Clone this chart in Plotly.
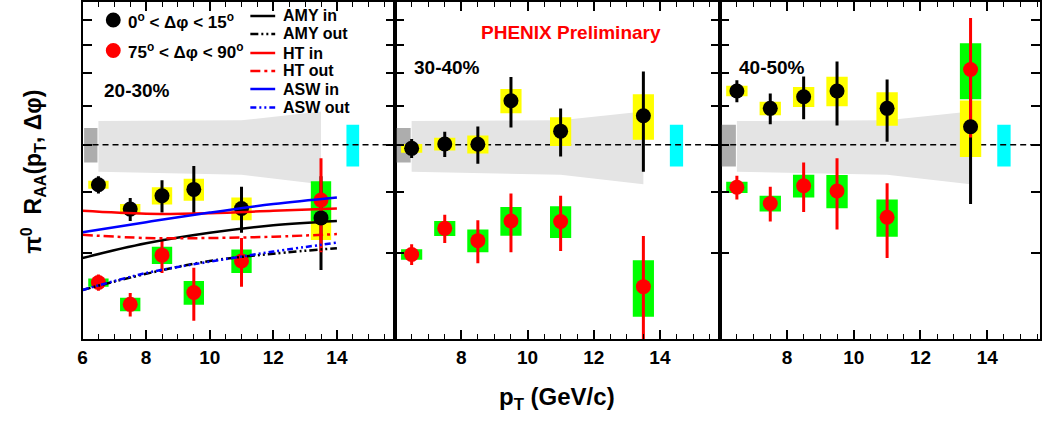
import math
import plotly.graph_objects as go

# ---------------- data ----------------
pt = [6.5, 7.5, 8.5, 9.5, 11.0, 13.5]

# 20-30%
p1_in = [0.414, 0.369, 0.393, 0.405, 0.370, 0.354]
p1_in_stat = [0.017, 0.020, 0.030, 0.047, 0.040, 0.077]
p1_in_sys = [0.008, 0.009, 0.016, 0.021, 0.020, 0.035]
p1_out = [0.261, 0.2355, 0.297, 0.249, 0.289, 0.385]
p1_out_stat = [0.010, 0.013, 0.024, 0.031, 0.033, 0.084]
p1_out_sys = [0.005, 0.0075, 0.012, 0.014, 0.016, 0.036]

# 30-40%
p2_in = [0.4915, 0.5016, 0.5009, 0.615, 0.533, 0.573]
p2_in_stat = [0.022, 0.030, 0.044, 0.073, 0.060, 0.133]
p2_in_sys = [0.010, 0.015, 0.0215, 0.035, 0.036, 0.061]
p2_out = [0.298, 0.337, 0.318, 0.349, 0.348, 0.256]
p2_out_stat = [0.0145, 0.0225, 0.032, 0.048, 0.045, 0.069]
p2_out_sys = [0.0075, 0.012, 0.017, 0.0235, 0.026, 0.034]

# 40-50%
p3_in = [0.644, 0.5935, 0.627, 0.644, 0.5935, 0.544]
p3_in_stat = [0.0335, 0.043, 0.063, 0.0965, 0.0865, 0.166]
p3_in_sys = [0.016, 0.019, 0.0295, 0.0445, 0.0466, 0.072]
p3_out = [0.409, 0.379, 0.412, 0.402, 0.355, 0.713]
p3_out_stat = [0.023, 0.031, 0.048, 0.067, 0.062, 0.196]
p3_out_sys = [0.011, 0.014, 0.022, 0.0315, 0.031, 0.0935]

# theory curves (20-30% panel)
th_pt = [6, 8, 10, 12, 14]
amy_in = [0.293, 0.314, 0.330, 0.342, 0.349]
amy_out = [0.252, 0.272, 0.289, 0.299, 0.307]
ht_in = [0.366, 0.361, 0.362, 0.366, 0.370]
ht_out = [0.327, 0.322, 0.322, 0.324, 0.328]
asw_in = [0.331, 0.347, 0.363, 0.378, 0.390]
asw_out = [0.252, 0.273, 0.288, 0.302, 0.315]

# inclusive reference level and its uncertainty band
ref_level = 0.5
band_pt = [6.5, 11.0, 13.5]
band_hi = [0.559, 0.561, 0.585]
band_lo = [0.440, 0.434, 0.415]
norm_lo = [0.460, 0.460, 0.451]
norm_hi = [0.541, 0.541, 0.549]
cyan_lo = 0.451
cyan_hi = 0.549

panel_labels = ["20-30%", "30-40%", "40-50%"]
x_ticks = [6, 8, 10, 12, 14]

# ---------------- styling ----------------
FONT = "Liberation Sans"
YEL = "#ffff00"
GRN = "#00ff00"
CYAN = "#00ffff"
BAND = "#e4e4e4"
DGRAY = "#adadad"
HW = 0.32
MS = 15

fig = go.Figure()

panels = [
    (p1_in, p1_in_stat, p1_in_sys, p1_out, p1_out_stat, p1_out_sys),
    (p2_in, p2_in_stat, p2_in_sys, p2_out, p2_out_stat, p2_out_sys),
    (p3_in, p3_in_stat, p3_in_sys, p3_out, p3_out_stat, p3_out_sys),
]
xranges = [[6, 15.83], [6, 15.82], [6, 15.58]]
xdomains = [[0.0749, 0.3769], [0.3769, 0.691], [0.691, 1.0]]


def boxes(xs, ys, hs, hw):
    X, Y = [], []
    for x, y, h in zip(xs, ys, hs):
        X += [x - hw, x + hw, x + hw, x - hw, x - hw, None]
        Y += [y - h, y - h, y + h, y + h, y - h, None]
    return X, Y


for i, (yin, sin, yin_sys, yout, sout, yout_sys) in enumerate(panels):
    xa = "x" if i == 0 else f"x{i+1}"
    ya = "y" if i == 0 else f"y{i+1}"
    kw = dict(xaxis=xa, yaxis=ya, showlegend=False, hoverinfo="skip")
    # band
    fig.add_trace(go.Scatter(x=band_pt + band_pt[::-1], y=band_hi + band_lo[::-1],
                             fill="toself", fillcolor=BAND, mode="lines",
                             line=dict(width=0), **kw))
    # normalisation boxes
    fig.add_trace(go.Scatter(x=[6.05, 6.47, 6.47, 6.05, 6.05],
                             y=[norm_lo[i], norm_lo[i], norm_hi[i], norm_hi[i], norm_lo[i]],
                             fill="toself", fillcolor=DGRAY, mode="lines",
                             line=dict(width=0), **kw))
    fig.add_trace(go.Scatter(x=[14.3, 14.7, 14.7, 14.3, 14.3],
                             y=[cyan_lo, cyan_lo, cyan_hi, cyan_hi, cyan_lo],
                             fill="toself", fillcolor=CYAN, mode="lines",
                             line=dict(width=0), **kw))
    # dashed reference
    fig.add_trace(go.Scatter(x=[xranges[i][0], xranges[i][1]], y=[ref_level, ref_level],
                             mode="lines", line=dict(color="black", width=1.5, dash="6px,4px"),
                             **kw))
    # systematic boxes
    bx, by = boxes(pt, yin, yin_sys, HW)
    fig.add_trace(go.Scatter(x=bx, y=by, fill="toself", fillcolor=YEL, mode="lines",
                             line=dict(width=0), **kw))
    bx, by = boxes(pt, yout, yout_sys, HW)
    fig.add_trace(go.Scatter(x=bx, y=by, fill="toself", fillcolor=GRN, mode="lines",
                             line=dict(width=0), **kw))
    # statistical errors
    fig.add_trace(go.Scatter(x=pt, y=yin, mode="markers",
                             marker=dict(size=1, color="rgba(0,0,0,0)"),
                             error_y=dict(type="data", array=sin, color="black",
                                          thickness=3, width=0), **kw))
    fig.add_trace(go.Scatter(x=pt, y=yout, mode="markers",
                             marker=dict(size=1, color="rgba(0,0,0,0)"),
                             error_y=dict(type="data", array=sout, color="red",
                                          thickness=3, width=0), **kw))
    # markers
    fig.add_trace(go.Scatter(x=pt, y=yout, mode="markers",
                             marker=dict(size=MS, color="red", line=dict(width=0)), **kw))
    fig.add_trace(go.Scatter(x=pt, y=yin, mode="markers",
                             marker=dict(size=MS, color="black", line=dict(width=0)), **kw))

# theory curves in first panel
curves = [
    (amy_in, "black", "solid"),
    (amy_out, "black", "8px,3px,2px,3px,2px,3px"),
    (ht_in, "red", "solid"),
    (ht_out, "red", "10px,4px,3px,4px"),
    (asw_in, "blue", "solid"),
    (asw_out, "blue", "6px,3px,2px,3px,2px,3px"),
]
for vals, col, dsh in curves:
    fig.add_trace(go.Scatter(x=th_pt, y=vals, mode="lines",
                             line=dict(color=col, width=2.5, dash=dsh, shape="spline"),
                             xaxis="x", yaxis="y", showlegend=False, hoverinfo="skip"))

yr = [math.log10(0.2), math.log10(0.98)]
layout = dict(
    width=1042, height=425,
    margin=dict(l=0, r=0, t=2, b=86),
    paper_bgcolor="white", plot_bgcolor="white",
    font=dict(family=FONT, color="black"),
)
for i in range(3):
    xn = "xaxis" if i == 0 else f"xaxis{i+1}"
    yn = "yaxis" if i == 0 else f"yaxis{i+1}"
    xa = "x" if i == 0 else f"x{i+1}"
    ya = "y" if i == 0 else f"y{i+1}"
    ttext = [str(v) for v in x_ticks] if i == 0 else [""] + [str(v) for v in x_ticks[1:]]
    layout[xn] = dict(
        domain=xdomains[i], range=xranges[i], anchor=ya,
        tickmode="array", tickvals=x_ticks, ticktext=ttext,
        ticks="inside", ticklen=9, tickwidth=1.5, tickcolor="black",
        minor=dict(tickmode="linear", tick0=6, dtick=0.5, ticks="inside",
                   ticklen=5, tickwidth=1.2, tickcolor="black"),
        showline=True, linecolor="black", linewidth=2, mirror="ticks",
        showgrid=False, zeroline=False,
        tickfont=dict(family=FONT, size=19, weight="bold", color="black"),
    )
    layout[yn] = dict(
        domain=[0, 1], type="log", range=yr, anchor=xa,
        tickmode="array", tickvals=[0.3, 0.4, 0.5, 0.6, 0.7, 0.8, 0.9],
        showticklabels=False,
        ticks="inside", ticklen=9, tickwidth=1.5, tickcolor="black",
        showline=True, linecolor="black", linewidth=2, mirror="ticks",
        showgrid=False, zeroline=False,
    )
fig.update_layout(**layout)


def px2x(px):
    return px / 1042.0


def py2y(py):
    return (339.0 - py) / 337.0


ann = []
# panel labels
label_pos = [(98, 90), (410, 67), (737, 67)]
for lab, (lx, ly) in zip(panel_labels, label_pos):
    ann.append(dict(x=px2x(lx), y=py2y(ly), xref="paper", yref="paper", text=lab,
                    showarrow=False, xanchor="left", yanchor="middle",
                    font=dict(family=FONT, size=19, weight="bold", color="black")))
ann.append(dict(x=px2x(570), y=py2y(33), xref="paper", yref="paper",
                text="PHENIX Preliminary", showarrow=False, xanchor="center", yanchor="middle",
                font=dict(family=FONT, size=19, weight="bold", color="red")))
# marker legend
ann.append(dict(x=px2x(122), y=py2y(21), xref="paper", yref="paper",
                text="0<sup>o</sup> < Δφ < 15<sup>o</sup>", showarrow=False,
                xanchor="left", yanchor="middle",
                font=dict(family=FONT, size=17, weight="bold", color="black")))
ann.append(dict(x=px2x(122), y=py2y(51), xref="paper", yref="paper",
                text="75<sup>o</sup> < Δφ < 90<sup>o</sup>", showarrow=False,
                xanchor="left", yanchor="middle",
                font=dict(family=FONT, size=17, weight="bold", color="black")))
# line legend
leg_rows = [("AMY in", 16), ("AMY out", 34), ("HT in", 53), ("HT out", 71),
            ("ASW in", 89), ("ASW out", 107.5)]
shapes = []
for (name, ry), (vals, col, dsh) in zip(leg_rows, curves):
    ann.append(dict(x=px2x(278), y=py2y(ry), xref="paper", yref="paper", text=name,
                    showarrow=False, xanchor="left", yanchor="middle",
                    font=dict(family=FONT, size=16, weight="bold", color="black")))
    shapes.append(dict(type="line", xref="paper", yref="paper",
                       x0=px2x(247), x1=px2x(272), y0=py2y(ry), y1=py2y(ry),
                       line=dict(color=col, width=2.5, dash=dsh)))
for cy, col in [(20, "black"), (50.5, "red")]:
    shapes.append(dict(type="circle", xref="paper", yref="paper",
                       x0=px2x(109 - 7.5), x1=px2x(109 + 7.5),
                       y0=py2y(cy + 7.5), y1=py2y(cy - 7.5),
                       fillcolor=col, line=dict(width=0)))
# axis titles
ann.append(dict(x=px2x(28), y=py2y(172), xref="paper", yref="paper",
                text="π<sup>0</sup>  R<sub>AA</sub>(p<sub>T</sub>, Δφ)", textangle=-90,
                showarrow=False, xanchor="center", yanchor="middle",
                font=dict(family=FONT, size=23, weight="bold", color="black")))
ann.append(dict(x=px2x(556), y=py2y(398), xref="paper", yref="paper",
                text="p<sub>T</sub> (GeV/c)", showarrow=False,
                xanchor="center", yanchor="middle",
                font=dict(family=FONT, size=24, weight="bold", color="black")))
fig.update_layout(annotations=ann, shapes=shapes)

fig.write_html("out.html", config={"displayModeBar": False},
               post_script="document.body.style.margin='0px';document.body.style.overflow='hidden';")
